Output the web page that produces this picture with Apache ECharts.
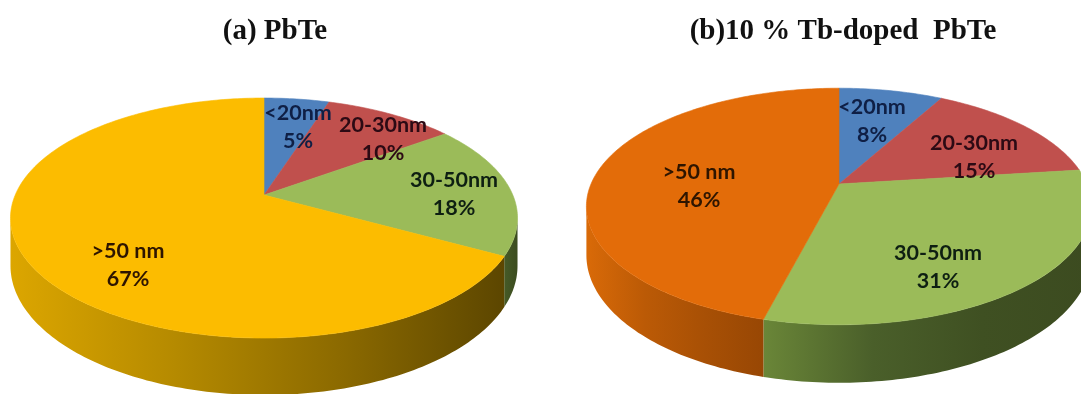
<!DOCTYPE html>
<html>
<head>
<meta charset="utf-8">
<style>html,body{margin:0;padding:0;background:#fff}#chart{width:1081px;height:394px}</style>
<script src="https://cdn.jsdelivr.net/npm/echarts@6/dist/echarts.min.js"></script>
</head>
<body>
<div id="chart"></div>
<script>
// Grain size distribution of PbTe samples
const categories = ['<20nm', '20-30nm', '30-50nm', '>50 nm'];
const valuesPure = [5, 10, 18, 67];
const valuesDoped = [8, 15, 31, 46];
const titlePure = '(a) PbTe';
const titleDoped = '(b)10 % Tb-doped  PbTe';

const BLUE = '#4f81bd', RED = '#c0504d', GREEN = '#9bbb59';
const labelInk = ['#0f1f45', '#2c0a14', '#0e1f12', '#2e1500'];

// Perspective disc: k tilts the disc, rx/ry are its unprojected radii, depth is the wall height.
const pureDisc = {
  cx: 264, cy: 195, rx: 248.8, ry: 115.6, k: 0.192, depth: 46,
  colors: [BLUE, RED, GREEN, '#fcbc00'],
  walls: [null, null,
    ['#465a26', '#3c4c20'],
    ['#dca600', '#b58a00', '#8c6a00', '#5c4600']],
  labelOffsets: [[34, -68], [119, -56], [190, -1], [-136, 70]]
};
const dopedDisc = {
  cx: 839, cy: 184, rx: 248, ry: 114, k: 0.19, depth: 47,
  colors: [BLUE, RED, GREEN, '#e36c09'],
  walls: [null, null,
    ['#6a8638', '#4a5f2a', '#3f5022', '#3c4b20'],
    ['#d96a08', '#bb5a06', '#a85005', '#984704']],
  labelOffsets: [[33, -63], [135, -27], [99, 83], [-140, 2]]
};

function project(d, deg) {
  const a = deg * Math.PI / 180, u = Math.sin(a), v = -Math.cos(a), w = 1 - d.k * v;
  return { x: d.cx + d.rx * u / w, y: d.cy + d.ry * v / w, drop: d.depth / w };
}

function discSeries(disc, values, name) {
  const total = values.reduce((s, x) => s + x, 0);
  const tangent = Math.asin(disc.k) * 180 / Math.PI;
  const wallFrom = 90 + tangent, wallTo = 270 - tangent;
  return {
    type: 'custom',
    name: name,
    coordinateSystem: 'none',
    animation: false,
    silent: true,
    clip: false,
    data: values.map((v, i) => ({ value: [v], name: categories[i] })),
    renderItem(params, api) {
      const i = params.dataIndex;
      const before = values.slice(0, i).reduce((s, x) => s + x, 0);
      const a0 = before / total * 360;
      const a1 = (before + api.value(0)) / total * 360;
      const children = [];

      // Slice top surface
      const top = [[disc.cx, disc.cy]];
      for (let a = a0; a < a1; a += 1) { const p = project(disc, a); top.push([p.x, p.y]); }
      const end = project(disc, a1); top.push([end.x, end.y]);
      children.push({
        type: 'polygon', z2: 2, shape: { points: top },
        style: { fill: disc.colors[i], stroke: disc.colors[i], lineWidth: 0.6 }
      });

      // Front wall, only where the rim faces the viewer
      const w0 = Math.max(a0, wallFrom), w1 = Math.min(a1, wallTo);
      if (disc.walls[i] && w1 > w0) {
        const upper = [], lower = [];
        for (let a = w0; ; a += 1) {
          const t = Math.min(a, w1), p = project(disc, t);
          upper.push([p.x, p.y]);
          lower.push([p.x, p.y + p.drop]);
          if (t >= w1) break;
        }
        const shades = disc.walls[i];
        // Rim runs right to left with rising angle, so shade stops are laid out in x.
        children.push({
          type: 'polygon', z2: 1, shape: { points: upper.concat(lower.reverse()) },
          style: {
            fill: new echarts.graphic.LinearGradient(0, 0, 1, 0,
              shades.map((c, n) => ({ offset: n / (shades.length - 1), color: c })))
          }
        });
      }

      // Two-line slice label
      const off = disc.labelOffsets[i];
      children.push({
        type: 'text', z2: 3,
        x: disc.cx + off[0], y: disc.cy + off[1],
        style: {
          text: categories[i] + '\n' + api.value(0) + '%',
          font: '700 21.5px Lato',
          lineHeight: 28.5,
          fill: labelInk[i],
          align: 'center',
          verticalAlign: 'middle'
        }
      });
      return { type: 'group', children };
    }
  };
}

const chart = echarts.init(document.getElementById('chart'), null, { renderer: 'canvas' });
const titleFont = { fontFamily: 'Liberation Serif', fontWeight: 'bold', fontSize: 29, color: '#111' };
chart.setOption({
  backgroundColor: '#fff',
  animation: false,
  title: [
    { text: titlePure, left: 270, top: 27, textAlign: 'center', textVerticalAlign: 'middle', textStyle: titleFont },
    { text: titleDoped, left: 838, top: 27, textAlign: 'center', textVerticalAlign: 'middle', textStyle: titleFont }
  ],
  series: [
    discSeries(pureDisc, valuesPure, 'PbTe'),
    discSeries(dopedDisc, valuesDoped, '10 % Tb-doped PbTe')
  ]
});
</script>
</body>
</html>
